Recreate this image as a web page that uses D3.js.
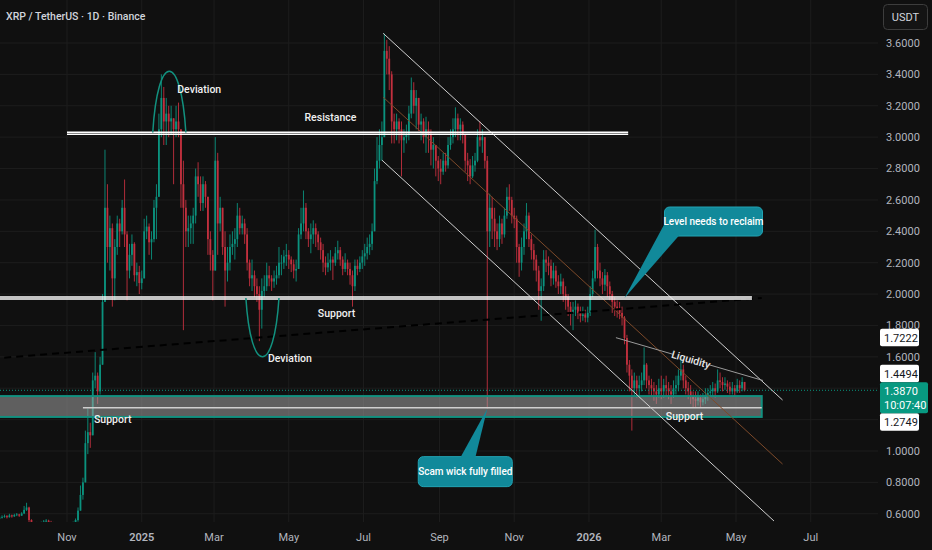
<!DOCTYPE html>
<html>
<head>
<meta charset="utf-8">
<script src="https://cdn.jsdelivr.net/npm/d3@7"></script>
<style>
    html, body { margin: 0; padding: 0; background: #101010; overflow: hidden; }
    svg { display: block; font-family: Roboto, "Noto Sans", sans-serif; }
</style>
</head>
<body>
<div id="chart"></div>
<script>
// XRP / USDT, one candle every 2 days, open = previous close
const title = 'XRP / TetherUS · 1D · Binance';
const startDate = '2024-09-07';
const stepDays = 2;
const firstOpen = 0.57;

const closes = [
    0.575, 0.580, 0.585, 0.578, 0.590, 0.583, 0.592, 0.596, 0.588, 0.602,
    0.625, 0.640, 0.560, 0.530, 0.535, 0.540, 0.533, 0.542, 0.550, 0.556,
    0.548, 0.545, 0.538, 0.522, 0.515, 0.520, 0.530, 0.514, 0.508, 0.500,
    0.540, 0.560, 0.620, 0.720, 0.800, 1.050, 1.120, 1.100, 1.450, 1.480,
    1.380, 1.550, 1.950, 2.550, 2.300, 2.420, 2.100, 2.300, 2.450, 2.400,
    2.550, 2.380, 2.150, 2.250, 2.320, 2.120, 2.140, 2.070, 2.100, 2.400,
    2.430, 2.330, 2.350, 2.550, 2.620, 3.050, 3.250, 3.100, 3.150, 3.100,
    3.120, 3.050, 3.100, 3.050, 2.700, 2.550, 2.400, 2.420, 2.450, 2.500,
    2.750, 2.700, 2.580, 2.700, 2.620, 2.350, 2.250, 2.150, 2.850, 2.450,
    2.550, 2.300, 2.150, 2.200, 2.300, 2.320, 2.350, 2.500, 2.420, 2.450,
    2.380, 2.200, 2.100, 2.120, 2.050, 2.000, 1.900, 2.020, 2.050, 2.120,
    2.100, 2.080, 2.100, 2.120, 2.200, 2.200, 2.240, 2.250, 2.220, 2.190,
    2.150, 2.160, 2.380, 2.450, 2.550, 2.400, 2.350, 2.380, 2.420, 2.380,
    2.330, 2.280, 2.200, 2.170, 2.200, 2.220, 2.200, 2.260, 2.280, 2.220,
    2.160, 2.200, 2.160, 2.120, 2.050, 2.180, 2.160, 2.200, 2.240, 2.260,
    2.300, 2.320, 2.400, 2.720, 2.850, 2.950, 3.000, 3.550, 3.500, 3.400,
    3.100, 3.050, 3.100, 3.050, 2.980, 3.000, 3.020, 3.150, 3.300, 3.200,
    3.250, 3.080, 3.100, 3.000, 3.050, 3.020, 2.920, 2.950, 2.850, 2.800,
    2.780, 2.850, 2.820, 2.950, 3.000, 3.050, 3.120, 3.050, 3.080, 3.020,
    2.850, 2.820, 2.750, 2.820, 2.850, 3.000, 2.980, 3.000, 2.850, 2.400,
    2.550, 2.480, 2.400, 2.350, 2.450, 2.380, 2.500, 2.620, 2.600, 2.500,
    2.480, 2.300, 2.200, 2.300, 2.400, 2.500, 2.350, 2.280, 2.220, 2.150,
    2.020, 2.050, 2.220, 2.200, 2.180, 2.100, 2.150, 2.080, 2.050, 2.080,
    2.000, 1.980, 1.920, 1.880, 1.900, 1.920, 1.880, 1.860, 1.870, 1.850,
    1.880, 2.000, 2.100, 2.300, 2.150, 2.100, 2.060, 2.120, 2.050, 2.000,
    1.950, 1.920, 1.900, 1.880, 1.850, 1.720, 1.550, 1.480, 1.400, 1.450,
    1.400, 1.420, 1.450, 1.550, 1.450, 1.420, 1.400, 1.380, 1.360, 1.400,
    1.380, 1.420, 1.400, 1.380, 1.360, 1.400, 1.420, 1.480, 1.520, 1.450,
    1.400, 1.380, 1.350, 1.330, 1.320, 1.340, 1.310, 1.330, 1.350, 1.370,
    1.380, 1.400, 1.380, 1.450, 1.440, 1.420, 1.430, 1.410, 1.380, 1.400,
    1.380, 1.420, 1.400, 1.440, 1.387
];

const highs = [
    0.585, 0.590, 0.595, 0.592, 0.600, 0.595, 0.600, 0.605, 0.600, 0.610,
    0.650, 0.670, 0.645, 0.565, 0.545, 0.548, 0.545, 0.550, 0.560, 0.566,
    0.562, 0.555, 0.548, 0.540, 0.525, 0.528, 0.540, 0.535, 0.520, 0.515,
    0.550, 0.570, 0.640, 0.780, 0.830, 1.130, 1.270, 1.180, 1.500, 1.630,
    1.500, 1.600, 2.000, 2.920, 2.700, 2.500, 2.450, 2.350, 2.500, 2.480,
    2.600, 2.730, 2.400, 2.320, 2.380, 2.330, 2.200, 2.180, 2.150, 2.480,
    2.500, 2.450, 2.400, 2.600, 2.700, 3.150, 3.400, 3.320, 3.250, 3.200,
    3.200, 3.120, 3.200, 3.220, 3.050, 2.850, 2.600, 2.500, 2.500, 2.550,
    2.800, 2.840, 2.750, 2.750, 2.720, 2.620, 2.400, 2.280, 3.000, 2.900,
    2.620, 2.550, 2.400, 2.300, 2.380, 2.400, 2.420, 2.580, 2.550, 2.500,
    2.480, 2.420, 2.220, 2.220, 2.150, 2.100, 2.050, 2.100, 2.120, 2.200,
    2.180, 2.120, 2.150, 2.180, 2.300, 2.250, 2.280, 2.320, 2.280, 2.240,
    2.220, 2.220, 2.420, 2.550, 2.660, 2.580, 2.420, 2.450, 2.470, 2.450,
    2.400, 2.360, 2.320, 2.240, 2.260, 2.280, 2.240, 2.300, 2.340, 2.300,
    2.240, 2.260, 2.220, 2.200, 2.150, 2.220, 2.220, 2.240, 2.280, 2.320,
    2.360, 2.380, 2.450, 2.800, 3.000, 3.050, 3.100, 3.660, 3.620, 3.580,
    3.420, 3.150, 3.150, 3.120, 3.100, 3.050, 3.080, 3.200, 3.380, 3.350,
    3.300, 3.250, 3.150, 3.120, 3.130, 3.100, 3.050, 3.000, 2.950, 2.880,
    2.860, 2.900, 2.900, 3.000, 3.050, 3.120, 3.190, 3.150, 3.120, 3.100,
    3.000, 2.900, 2.860, 2.880, 2.900, 3.050, 3.100, 3.050, 3.000, 2.880,
    2.640, 2.620, 2.550, 2.450, 2.500, 2.480, 2.550, 2.680, 2.700, 2.620,
    2.550, 2.500, 2.320, 2.360, 2.450, 2.580, 2.520, 2.380, 2.320, 2.250,
    2.180, 2.100, 2.280, 2.280, 2.240, 2.220, 2.200, 2.180, 2.120, 2.130,
    2.100, 2.050, 2.000, 1.950, 1.950, 1.960, 1.940, 1.920, 1.920, 1.900,
    1.920, 2.050, 2.150, 2.410, 2.320, 2.200, 2.140, 2.160, 2.140, 2.080,
    2.020, 1.980, 1.960, 1.950, 1.920, 1.860, 1.740, 1.580, 1.520, 1.500,
    1.480, 1.480, 1.500, 1.660, 1.560, 1.480, 1.460, 1.440, 1.420, 1.460,
    1.480, 1.460, 1.480, 1.440, 1.420, 1.450, 1.480, 1.520, 1.600, 1.550,
    1.480, 1.440, 1.420, 1.380, 1.380, 1.380, 1.360, 1.370, 1.400, 1.400,
    1.420, 1.440, 1.430, 1.520, 1.500, 1.470, 1.470, 1.450, 1.440, 1.440,
    1.420, 1.460, 1.450, 1.470, 1.430
];

const lows = [
    0.565, 0.570, 0.575, 0.570, 0.576, 0.575, 0.580, 0.585, 0.580, 0.586,
    0.598, 0.618, 0.520, 0.515, 0.522, 0.528, 0.524, 0.530, 0.536, 0.540,
    0.538, 0.535, 0.525, 0.510, 0.505, 0.508, 0.515, 0.500, 0.495, 0.490,
    0.490, 0.530, 0.550, 0.620, 0.690, 0.800, 0.980, 1.020, 1.100, 1.400,
    1.300, 1.360, 1.550, 1.950, 2.200, 2.150, 1.920, 1.960, 2.250, 2.300,
    2.380, 2.300, 1.960, 2.100, 2.180, 2.080, 2.050, 2.000, 2.030, 2.100,
    2.350, 2.250, 2.220, 2.330, 2.350, 2.620, 3.000, 2.950, 2.950, 3.000,
    3.020, 2.700, 3.000, 3.000, 2.550, 1.770, 2.300, 2.300, 2.320, 2.320,
    2.450, 2.620, 2.530, 2.530, 2.550, 2.250, 2.150, 1.960, 2.150, 2.250,
    2.400, 2.250, 1.920, 2.080, 2.150, 2.250, 2.220, 2.300, 2.380, 2.380,
    2.320, 2.150, 2.050, 2.020, 1.980, 1.950, 1.700, 1.780, 1.980, 2.020,
    2.050, 2.020, 2.040, 2.060, 2.100, 2.120, 2.160, 2.180, 2.160, 2.140,
    2.100, 2.080, 2.160, 2.350, 2.400, 2.350, 2.300, 2.260, 2.320, 2.300,
    2.280, 2.220, 2.140, 2.120, 2.140, 2.150, 2.090, 2.180, 2.220, 2.180,
    2.120, 2.140, 2.120, 2.060, 1.920, 2.020, 2.120, 2.140, 2.160, 2.180,
    2.220, 2.250, 2.280, 2.400, 2.700, 2.800, 2.850, 3.000, 3.400, 3.300,
    2.960, 2.960, 2.980, 2.960, 2.750, 2.900, 2.960, 2.980, 3.120, 3.150,
    3.050, 3.040, 2.980, 2.960, 2.900, 2.900, 2.820, 2.800, 2.750, 2.720,
    2.700, 2.760, 2.780, 2.800, 2.920, 2.960, 3.000, 2.980, 2.980, 2.960,
    2.780, 2.720, 2.700, 2.740, 2.780, 2.840, 2.940, 2.900, 2.800, 1.270,
    2.300, 2.350, 2.300, 2.280, 2.300, 2.320, 2.360, 2.480, 2.530, 2.450,
    2.420, 2.200, 2.110, 2.150, 2.250, 2.350, 2.300, 2.220, 2.150, 2.080,
    1.900, 1.830, 2.020, 2.140, 2.120, 2.050, 2.060, 2.040, 2.000, 2.000,
    1.950, 1.900, 1.860, 1.800, 1.770, 1.860, 1.840, 1.820, 1.830, 1.820,
    1.820, 1.860, 1.980, 2.080, 2.100, 2.050, 2.000, 2.020, 1.980, 1.960,
    1.880, 1.860, 1.850, 1.840, 1.800, 1.680, 1.500, 1.380, 1.130, 1.350,
    1.340, 1.350, 1.380, 1.420, 1.400, 1.360, 1.350, 1.320, 1.300, 1.340,
    1.330, 1.340, 1.350, 1.330, 1.300, 1.340, 1.360, 1.380, 1.450, 1.400,
    1.360, 1.330, 1.300, 1.280, 1.280, 1.290, 1.280, 1.290, 1.300, 1.320,
    1.340, 1.350, 1.340, 1.370, 1.400, 1.380, 1.390, 1.370, 1.360, 1.360,
    1.350, 1.370, 1.370, 1.380, 1.380
];

const priceTicks = [0.6, 0.8, 1.0, 1.2, 1.4, 1.6, 1.8, 2.0, 2.2, 2.4, 2.6, 2.8, 3.0, 3.2, 3.4, 3.6];
const currentPrice = 1.387;
const countdown = '10:07:40';
const markerPrices = [1.7222, 1.4494, 1.2749];

// drawings, as [date, price]
const resistance = { from: '2024-11-01', to: '2026-02-02', price: 3.025 };
const supportLine = { from: '2024-09-01', to: '2026-05-14', price: 1.975 };
const trendDash = [['2024-09-01', 1.589], ['2026-05-22', 1.975]];
const supportBand = { from: '2024-09-01', to: '2026-05-22', top: 1.350, bottom: 1.217 };
const bandLine = { from: '2024-11-14', to: '2026-05-22', price: 1.2749 };
const channelLines = [
    { pts: [['2025-07-17', 3.662], ['2026-06-08', 1.325]], color: '#cfcfcf' },
    { pts: [['2025-07-17', 3.255], ['2026-06-08', 0.917]], color: '#7d4a2a' },
    { pts: [['2025-07-16', 2.854], ['2026-06-01', 0.554]], color: '#cfcfcf' }
];
const liquidity = [['2026-01-23', 1.7222], ['2026-05-23', 1.4494]];
const arcs = [
    { from: '2025-01-10', to: '2025-02-06', base: 3.03, peak: 3.42 },
    { from: '2025-03-27', to: '2025-04-23', base: 1.975, peak: 1.60 }
];
const labels = [
    { text: 'Deviation', date: '2025-01-30', price: 3.306, anchor: 'start' },
    { text: 'Deviation', date: '2025-04-14', price: 1.592, anchor: 'start' },
    { text: 'Resistance', date: '2025-06-04', price: 3.127, anchor: 'middle' },
    { text: 'Support', date: '2025-06-09', price: 1.879, anchor: 'middle' },
    { text: 'Support', date: '2024-11-23', price: 1.204, anchor: 'start' },
    { text: 'Support', date: '2026-03-20', price: 1.223, anchor: 'middle' }
];
const callouts = [
    { text: 'Level needs to reclaim', date: '2026-01-30', price: 1.975,
      dx: 40, dy: -91, w: 98, h: 29, base: [[1, 15], [15, 28]] },
    { text: 'Scam wick fully filled', date: '2025-10-10', price: 1.27,
      dx: -69, dy: 48, w: 94, h: 30, base: [[42, 1], [57, 1]] }
];

const W = 932, H = 550, plotW = 878, plotH = 522;
const bg = '#101010', gridColor = '#1d1d1d', axisText = '#b2b5be';
const upColor = '#0b927e', downColor = '#c2303e', teal = '#089981';

const parseDate = d3.timeParse('%Y-%m-%d');
const xScale = d3.scaleTime()
    .domain([parseDate('2024-11-01'), parseDate('2026-05-01')])
    .range([67, 736]);
const yScale = d3.scaleLinear().domain([1, 3.6]).range([451, 43]);
const px = p => [xScale(parseDate(p[0])), yScale(p[1])];

const t0 = parseDate(startDate);
const candles = closes.map((c, i) => {
    const o = i === 0 ? firstOpen : closes[i - 1];
    return {
        date: d3.timeDay.offset(t0, i * stepDays),
        o: o, c: c,
        h: Math.max(highs[i], o, c),
        l: Math.min(lows[i], o, c)
    };
});

const svg = d3.select('#chart').append('svg')
    .attr('width', W)
    .attr('height', H);

svg.append('rect').attr('width', W).attr('height', H).attr('fill', bg);

svg.append('clipPath').attr('id', 'plotClip')
    .append('rect').attr('width', plotW).attr('height', plotH);

const plot = svg.append('g').attr('clip-path', 'url(#plotClip)');

// grid
const timeTicks = d3.timeMonth.every(2)
    .range(parseDate('2024-09-01'), parseDate('2026-08-01'))
    .filter(d => xScale(d) > 10 && xScale(d) < plotW - 10);

plot.append('g').selectAll('line').data(priceTicks).join('line')
    .attr('x1', 0).attr('x2', plotW)
    .attr('y1', d => yScale(d)).attr('y2', d => yScale(d))
    .attr('stroke', gridColor).attr('stroke-width', 1);

plot.append('g').selectAll('line').data(timeTicks).join('line')
    .attr('x1', d => xScale(d)).attr('x2', d => xScale(d))
    .attr('y1', 0).attr('y2', plotH)
    .attr('stroke', gridColor).attr('stroke-width', 1);

// candles
const cg = plot.append('g');
const colorOf = d => d.c >= d.o ? upColor : downColor;

cg.selectAll('line').data(candles).join('line')
    .attr('x1', d => xScale(d.date)).attr('x2', d => xScale(d.date))
    .attr('y1', d => yScale(d.h)).attr('y2', d => yScale(d.l))
    .attr('stroke', colorOf).attr('stroke-width', 0.9);

cg.selectAll('rect').data(candles).join('rect')
    .attr('x', d => xScale(d.date) - 0.9)
    .attr('width', 1.8)
    .attr('y', d => yScale(Math.max(d.o, d.c)))
    .attr('height', d => Math.max(0.8, Math.abs(yScale(d.o) - yScale(d.c))))
    .attr('fill', colorOf);

// current price line
plot.append('line')
    .attr('x1', 0).attr('x2', plotW)
    .attr('y1', yScale(currentPrice)).attr('y2', yScale(currentPrice))
    .attr('stroke', teal).attr('stroke-width', 1)
    .attr('stroke-dasharray', '1,2');

// drawings
const dg = plot.append('g');

dg.append('rect')
    .attr('x', xScale(parseDate(supportBand.from)))
    .attr('y', yScale(supportBand.top))
    .attr('width', xScale(parseDate(supportBand.to)) - xScale(parseDate(supportBand.from)))
    .attr('height', yScale(supportBand.bottom) - yScale(supportBand.top))
    .attr('fill', 'rgba(160,160,160,0.55)')
    .attr('stroke', '#12907f').attr('stroke-width', 2);

dg.append('line')
    .attr('x1', xScale(parseDate(bandLine.from))).attr('x2', xScale(parseDate(bandLine.to)))
    .attr('y1', yScale(bandLine.price)).attr('y2', yScale(bandLine.price))
    .attr('stroke', '#cfcfcf').attr('stroke-width', 1.5);

const line = d3.line().x(d => px(d)[0]).y(d => px(d)[1]);

channelLines.forEach(c => {
    dg.append('path').attr('d', line(c.pts))
        .attr('fill', 'none').attr('stroke', c.color).attr('stroke-width', 1);
});

dg.append('path').attr('d', line(trendDash))
    .attr('fill', 'none').attr('stroke', '#000').attr('stroke-width', 2)
    .attr('stroke-dasharray', '7,5');

function doubleLine(lv) {
    const x1 = xScale(parseDate(lv.from)), x2 = xScale(parseDate(lv.to)), y = yScale(lv.price);
    [-1, 1].forEach(o => {
        dg.append('line')
            .attr('x1', x1).attr('x2', x2)
            .attr('y1', y + o).attr('y2', y + o)
            .attr('stroke', '#ffffff').attr('stroke-width', 1.4);
    });
}
doubleLine(resistance);
doubleLine(supportLine);

arcs.forEach(a => {
    const x1 = xScale(parseDate(a.from)), x2 = xScale(parseDate(a.to));
    const yb = yScale(a.base), yp = yScale(a.peak);
    const cy = (yp - 0.25 * yb) / 0.75;
    const cw = (x2 - x1) * 0.15;
    const path = d3.path();
    path.moveTo(x1, yb);
    path.bezierCurveTo(x1 + cw, cy, x2 - cw, cy, x2, yb);
    dg.append('path').attr('d', path.toString())
        .attr('fill', 'none').attr('stroke', '#12917f').attr('stroke-width', 1.5);
});

// liquidity line with a gap for its text
const lq0 = px(liquidity[0]), lq1 = px(liquidity[1]);
const lerp = t => [lq0[0] + (lq1[0] - lq0[0]) * t, lq0[1] + (lq1[1] - lq0[1]) * t];
[[0, 0.39], [0.63, 1]].forEach(s => {
    const a = lerp(s[0]), b = lerp(s[1]);
    dg.append('line')
        .attr('x1', a[0]).attr('y1', a[1]).attr('x2', b[0]).attr('y2', b[1])
        .attr('stroke', '#9a9a9a').attr('stroke-width', 1);
});
const lqMid = lerp(0.51);
const lqAngle = Math.atan2(lq1[1] - lq0[1], lq1[0] - lq0[0]) * 180 / Math.PI;
dg.append('text')
    .attr('transform', 'translate(' + lqMid[0] + ',' + lqMid[1] + ') rotate(' + lqAngle + ')')
    .attr('text-anchor', 'middle').attr('dy', '0.35em')
    .attr('font-size', 10.5).attr('font-weight', 500)
    .attr('fill', '#e8e8e8')
    .text('Liquidity');

dg.selectAll('text.label').data(labels).join('text')
    .attr('class', 'label')
    .attr('x', d => xScale(parseDate(d.date)))
    .attr('y', d => yScale(d.price))
    .attr('dy', '0.35em')
    .attr('text-anchor', d => d.anchor)
    .attr('font-size', 10.5).attr('font-weight', 500)
    .attr('fill', '#f0f0f0')
    .text(d => d.text);

callouts.forEach(c => {
    const tip = px([c.date, c.price]);
    const bx = tip[0] + c.dx, by = tip[1] + c.dy;
    dg.append('rect')
        .attr('x', bx).attr('y', by).attr('width', c.w).attr('height', c.h)
        .attr('rx', 5)
        .attr('fill', '#11899a').attr('stroke', '#22a3b3').attr('stroke-width', 1);
    dg.append('path')
        .attr('d', d3.line()([[bx + c.base[0][0], by + c.base[0][1]], [bx + c.base[1][0], by + c.base[1][1]], tip]) + 'Z')
        .attr('fill', '#11899a');
    dg.append('text')
        .attr('x', bx + c.w / 2).attr('y', by + c.h / 2).attr('dy', '0.35em')
        .attr('text-anchor', 'middle')
        .attr('font-size', 10).attr('font-weight', 500)
        .attr('fill', '#ffffff')
        .text(c.text);
});

// title
svg.append('text')
    .attr('x', 6).attr('y', 20)
    .attr('font-size', 10.5).attr('font-weight', 500)
    .attr('fill', '#d1d4dc')
    .text(title);

// time axis
svg.append('g').selectAll('text').data(timeTicks).join('text')
    .attr('x', d => xScale(d)).attr('y', 541)
    .attr('text-anchor', 'middle')
    .attr('font-size', 11)
    .attr('font-weight', d => d.getMonth() === 0 ? 600 : 400)
    .attr('fill', axisText)
    .text(d => d.getMonth() === 0 ? d3.timeFormat('%Y')(d) : d3.timeFormat('%b')(d));

// price axis label boxes (current price + markers), pushed apart like the platform does
const curY = yScale(currentPrice);
const curTop = curY - 8, curBottom = curY + 23;
const markerBoxes = markerPrices.map(p => {
    let top = yScale(p) - 9;
    if (top < curBottom && top + 18 > curTop) {
        top = yScale(p) < curY ? curTop - 17.5 : curBottom;
    }
    return { price: p, top: top };
});
const covered = [[curTop, curBottom]].concat(markerBoxes.map(b => [b.top, b.top + 17.5]));
const visibleTicks = priceTicks.filter(p => !covered.some(r => yScale(p) > r[0] && yScale(p) < r[1]));

svg.append('g').selectAll('text').data(visibleTicks).join('text')
    .attr('x', 886).attr('y', d => yScale(d)).attr('dy', '0.35em')
    .attr('font-size', 11)
    .attr('fill', axisText)
    .text(d => d3.format('.4f')(d));

svg.append('rect')
    .attr('x', 883.5).attr('y', 4.5).attr('width', 44).attr('height', 25).attr('rx', 4)
    .attr('fill', '#141414').attr('stroke', '#3d3d3d');
svg.append('text')
    .attr('x', 905.5).attr('y', 17).attr('dy', '0.35em')
    .attr('text-anchor', 'middle').attr('font-size', 11)
    .attr('fill', '#d1d4dc')
    .text('USDT');

const mg = svg.append('g');
mg.selectAll('rect').data(markerBoxes).join('rect')
    .attr('x', 880).attr('y', d => d.top).attr('width', 39).attr('height', 17.5).attr('rx', 2)
    .attr('fill', '#ffffff');
mg.selectAll('text').data(markerBoxes).join('text')
    .attr('x', 884).attr('y', d => d.top + 9).attr('dy', '0.35em')
    .attr('font-size', 11).attr('fill', '#131722')
    .text(d => d3.format('.4f')(d.price));

svg.append('rect')
    .attr('x', 880).attr('y', curTop).attr('width', 48).attr('height', curBottom - curTop).attr('rx', 2)
    .attr('fill', teal);
svg.append('text')
    .attr('x', 884).attr('y', curY + 0.5).attr('dy', '0.35em')
    .attr('font-size', 11).attr('fill', '#ffffff')
    .text(d3.format('.4f')(currentPrice));
svg.append('text')
    .attr('x', 884).attr('y', curY + 15).attr('dy', '0.35em')
    .attr('font-size', 11).attr('fill', '#ffffff')
    .text(countdown);
</script>
</body>
</html>
